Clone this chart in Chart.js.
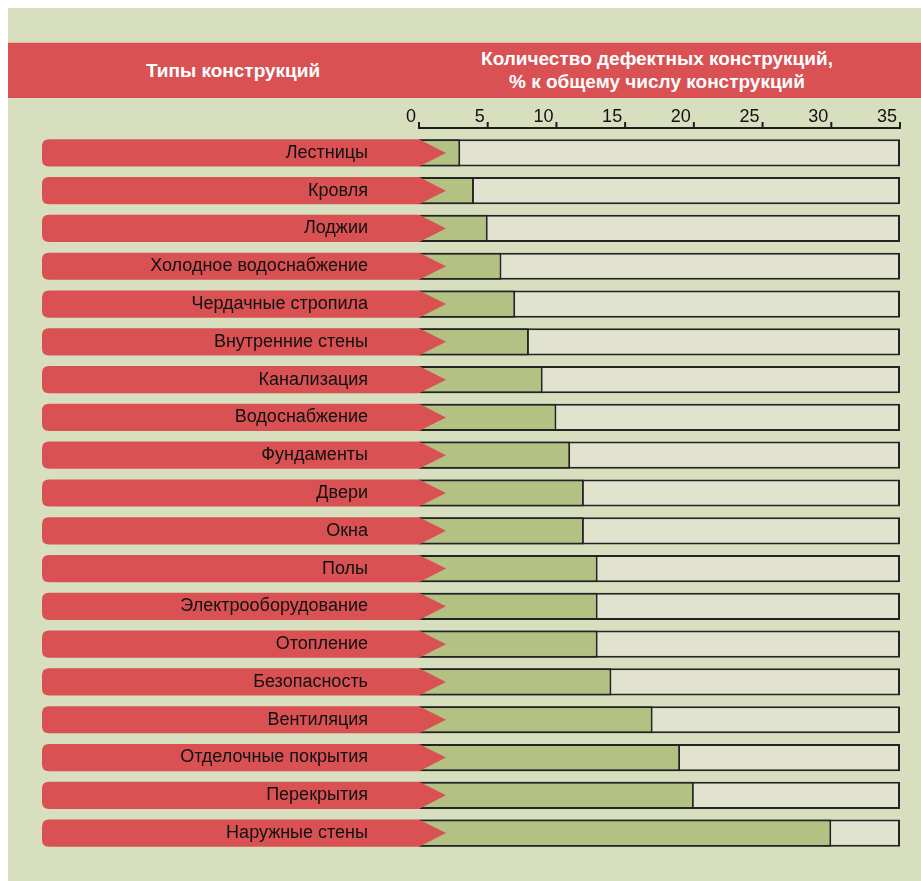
<!DOCTYPE html>
<html lang="ru">
<head>
<meta charset="utf-8">
<title>Дефектные конструкции</title>
<script src="https://cdn.jsdelivr.net/npm/chart.js@4"></script>
<style>
  html, body { margin: 0; padding: 0; background: #ffffff; }
  #wrap {
    position: relative;
    width: 921px;
    height: 881px;
    overflow: hidden;
  }
  #panel {
    position: absolute;
    left: 8px; top: 8px; width: 913px; height: 873px;
    background: #d7dfbe;
  }
  #header {
    position: absolute;
    left: 8px; top: 42px; width: 913px; height: 56px;
    background: #d95153;
    border-top: 1px solid #e9b7a4;
    box-sizing: border-box;
  }
  .head {
    position: absolute;
    color: #ffffff;
    font-family: "Liberation Sans", Arial, sans-serif;
    font-weight: bold;
    font-size: 19px;
    line-height: 23px;
    text-align: center;
  }
  #headLeft { left: 75px; width: 300px; top: 16px; }
  #headRight { left: 449px; width: 400px; top: 4px; }
  #chart { position: absolute; left: 0; top: 0; }
</style>
</head>
<body>
<div id="wrap">
  <div id="panel"></div>
  <div id="header">
    <div class="head" id="headLeft">Типы конструкций</div>
    <div class="head" id="headRight">Количество дефектных конструкций,<br>% к общему числу конструкций</div>
  </div>
  <canvas id="chart" width="921" height="881"></canvas>
</div>
<script>
// --- Данные ---
const constructionTypes = [
  'Лестницы', 'Кровля', 'Лоджии', 'Холодное водоснабжение', 'Чердачные стропила',
  'Внутренние стены', 'Канализация', 'Водоснабжение', 'Фундаменты', 'Двери',
  'Окна', 'Полы', 'Электрооборудование', 'Отопление', 'Безопасность',
  'Вентиляция', 'Отделочные покрытия', 'Перекрытия', 'Наружные стены'
];
const defectShare = [3, 4, 5, 6, 7, 8, 9, 10, 11, 12, 12, 13, 13, 13, 14, 17, 19, 20, 30];
const axisTicks = [0, 5, 10, 15, 20, 25, 30, 35];
const axisMax = 35;

document.addEventListener('DOMContentLoaded', () => {
  const ctx = document.getElementById('chart').getContext('2d');
  const fullBars = constructionTypes.map(() => axisMax);

  // --- Красные «стрелки» под подписями ---
  const arrowPlugin = {
    id: 'arrows',
    afterDatasetsDraw(chart) {
      const { ctx } = chart;
      const yScale = chart.scales.y;
      const xStart = chart.scales.x.getPixelForValue(0);
      const bars = chart.getDatasetMeta(1).data;
      ctx.save();
      ctx.fillStyle = '#d95153';
      bars.forEach((bar, i) => {
        const yc = yScale.getPixelForValue(i);
        const h = bar.height;
        const top = yc - h / 2;
        const bottom = yc + h / 2;
        const left = 42;
        const r = 7;
        ctx.beginPath();
        ctx.moveTo(left + r, top);
        ctx.lineTo(xStart, top);
        ctx.lineTo(xStart + 27, yc);
        ctx.lineTo(xStart, bottom);
        ctx.lineTo(left + r, bottom);
        ctx.quadraticCurveTo(left, bottom, left, bottom - r);
        ctx.lineTo(left, top + r);
        ctx.quadraticCurveTo(left, top, left + r, top);
        ctx.closePath();
        ctx.fill();
      });
      ctx.restore();
    },
    // --- Ось с засечками над графиком ---
    afterDraw(chart) {
      const { ctx, chartArea } = chart;
      const xScale = chart.scales.x;
      const y = chartArea.top - 6;
      ctx.save();
      ctx.strokeStyle = '#1e1e1e';
      ctx.lineWidth = 2;
      ctx.beginPath();
      ctx.moveTo(xScale.getPixelForValue(0), y);
      ctx.lineTo(xScale.getPixelForValue(axisMax), y);
      axisTicks.forEach(v => {
        const x = xScale.getPixelForValue(v);
        ctx.moveTo(x, y + 1);
        ctx.lineTo(x, y - 6);
      });
      ctx.stroke();
      ctx.restore();
    }
  };

  new Chart(ctx, {
    type: 'bar',
    data: {
      labels: constructionTypes,
      datasets: [
        {
          label: 'Дефектные',
          data: defectShare,
          backgroundColor: '#b3c283',
          borderColor: '#242424',
          borderWidth: { top: 2, right: 2, bottom: 2, left: 0 },
          grouped: false,
          categoryPercentage: 1,
          barPercentage: 0.72
        },
        {
          label: 'Всего',
          data: fullBars,
          backgroundColor: '#e1e3cf',
          borderColor: '#242424',
          borderWidth: 2,
          grouped: false,
          categoryPercentage: 1,
          barPercentage: 0.72
        }
      ]
    },
    options: {
      indexAxis: 'y',
      responsive: false,
      animation: false,
      layout: { padding: { left: 0, right: 21, top: 0, bottom: 29 } },
      plugins: {
        legend: { display: false },
        tooltip: { enabled: false }
      },
      scales: {
        x: {
          position: 'top',
          min: 0,
          max: axisMax,
          afterBuildTicks: scale => { scale.ticks = axisTicks.map(v => ({ value: v })); },
          afterFit: scale => { scale.height = 134; },
          grid: { display: false, drawTicks: false },
          border: { display: false },
          ticks: {
            color: '#111111',
            font: { family: '"Liberation Sans", Arial, sans-serif', size: 18 },
            padding: 6,
            align: 'end',
            labelOffset: -3,
            maxRotation: 0
          }
        },
        y: {
          afterFit: scale => { scale.width = 419; },
          // отступ подписей задаём длиной (невидимых) засечек
          grid: { display: false, drawTicks: true, tickLength: 51 },
          border: { display: false },
          ticks: {
            z: 1,
            color: '#111111',
            font: { family: '"Liberation Sans", Arial, sans-serif', size: 18 },
            padding: 0
          }
        }
      }
    },
    plugins: [arrowPlugin]
  });
});
</script>
</body>
</html>
